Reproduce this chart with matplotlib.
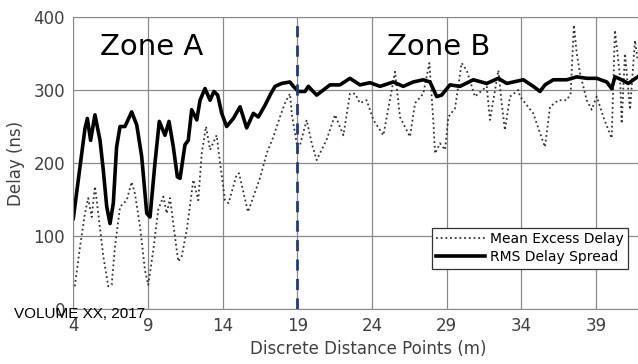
import matplotlib
matplotlib.use("Agg")
import matplotlib.pyplot as plt

# RMS Delay Spread (solid)
rms_x = [4.0, 4.45, 4.78, 4.94, 5.16, 5.45, 5.79, 6.01, 6.24, 6.46, 6.68, 6.9, 7.13, 7.46,
         7.91, 8.25, 8.58, 8.92, 9.14, 9.47, 9.76, 10.14, 10.41, 10.7, 10.97, 11.15, 11.48,
         11.7, 11.93, 12.27, 12.49, 12.82, 13.16, 13.42, 13.67, 13.94, 14.27,
         14.72, 15.17, 15.61, 16.06, 16.39, 16.84, 17.18, 17.51, 17.96, 18.51, 18.74,
         19.07, 19.52, 19.74, 20.3, 20.75, 21.19, 21.86, 22.53, 23.2, 23.87, 24.55,
         25.43, 26.1, 26.77, 27.44, 27.89, 28.34, 28.67, 29.23, 29.9, 30.79, 31.69,
         32.47, 33.03, 33.47, 34.14, 34.81, 35.26, 35.59, 36.15, 37.05, 37.72, 38.39,
         39.06, 39.73, 40.06, 40.28, 40.73, 41.17, 41.8]
rms_y = [124, 195, 247, 261, 231, 266, 231, 190, 140, 117, 145, 222, 250, 250,
         270, 252, 209, 131, 126, 200, 257, 238, 257, 222, 181, 179, 225,
         231, 273, 259, 286, 302, 286, 298, 293, 268, 250,
         261, 277, 248, 268, 263, 279, 293, 305, 309, 311, 305,
         298, 298, 305, 293, 300, 307, 307, 316, 307, 310, 305,
         311, 305, 311, 314, 311, 291, 293, 307, 305, 314, 309,
         316, 309, 311, 314, 305, 298, 307, 314, 314, 318, 316,
         316, 311, 302, 318, 314, 309, 318]

# Mean Excess Delay (dotted)
med_x = [4.1, 4.45, 4.78, 5.0, 5.23, 5.45, 5.67, 6.01, 6.34, 6.57, 6.79, 7.13, 7.58, 7.91,
         8.13, 8.47, 8.8, 9.02, 9.36, 9.69, 10.03, 10.26, 10.48, 10.81, 11.03, 11.26, 11.6,
         12.04, 12.37, 12.6, 12.89, 13.16, 13.6, 13.83, 14.16, 14.4, 14.94, 15.1, 15.7,
         16.5, 16.95, 17.4, 17.84, 18.18, 18.51, 18.63, 18.96,
         19.19, 19.63, 19.97, 20.3, 20.97, 21.53, 22.09, 22.53, 22.87, 23.2, 23.65, 24.1,
         24.77, 25.55, 25.88, 26.55, 26.89, 27.44, 27.85, 28.11, 28.23, 28.56, 28.9, 29.12,
         29.57, 30.01, 30.35, 30.9, 31.69, 31.91, 32.47, 32.69, 32.91, 33.25, 33.81, 33.92,
         34.81, 35.26, 35.59, 35.93, 36.49, 37.05, 37.31, 37.53, 37.72, 37.94, 38.39, 38.72,
         39.06, 39.5, 40.06, 40.28, 40.62, 40.73, 40.95, 41.29, 41.62, 41.8]
med_y = [31, 85, 131, 152, 126, 168, 131, 72, 31, 33, 85, 140, 149, 174,
         158, 113, 53, 33, 81, 136, 154, 131, 152, 99, 65, 72, 108,
         177, 149, 213, 250, 218, 238, 200, 149, 145, 184, 186, 133,
         179, 213, 236, 263, 282, 295, 268, 227,
         225, 259, 227, 204, 232, 266, 238, 295, 295, 282, 286, 259,
         238, 325, 263, 236, 282, 295, 337, 259, 213, 227, 218, 263,
         275, 337, 327, 291, 305, 259, 327, 282, 245, 291, 300, 291,
         268, 241, 222, 277, 286, 286, 295, 389, 350, 323, 286, 273,
         291, 263, 234, 382, 318, 254, 350, 273, 368, 341]

xticks = [4, 9, 14, 19, 24, 29, 34, 39]
yticks = [0, 100, 200, 300, 400]

W, H = 638, 364
fig = plt.figure(figsize=(W / 100, H / 100), dpi=100)
px_per_unit = 14.93
left_px, bottom_px, top_px = 73.3, 309, 17
xmax = 43.5
ax = fig.add_axes([left_px / W, (H - bottom_px) / H,
                   (xmax - 4) * px_per_unit / W, (bottom_px - top_px) / H])

ax.plot(med_x, med_y, linestyle=(0, (1, 1.6)), color='#333333', linewidth=1.3,
        label='Mean Excess Delay')
ax.plot(rms_x, rms_y, linestyle='-', color='black', linewidth=2.6, label='RMS Delay Spread')
ax.axvline(19, color='#1c3b8a', linestyle=(0, (4, 3)), linewidth=2.0)

ax.set_xlim(4, xmax)
ax.set_ylim(0, 400)
ax.set_xticks(xticks)
ax.set_yticks(yticks)
ax.grid(True, color='#8a8a8a', linewidth=0.9)
ax.set_axisbelow(True)
ax.tick_params(length=0, labelsize=12, labelcolor='#404040', pad=6)
for s in ['left', 'bottom', 'top']:
    ax.spines[s].set_color('#8a8a8a')
ax.spines['right'].set_visible(False)

ax.set_xlabel('Discrete Distance Points (m)', fontsize=12, color='#404040', labelpad=3)
ax.set_ylabel('Delay (ns)', fontsize=12, color='#404040', labelpad=6)

fig.text(100 / W, (H - 55) / H, 'Zone A', fontsize=21, color='black')
fig.text(387 / W, (H - 55) / H, 'Zone B', fontsize=21, color='black')

leg = ax.legend(loc='upper left', bbox_to_anchor=(432 / W, (H - 228) / H),
                bbox_transform=fig.transFigure, fontsize=10, frameon=True,
                fancybox=False, framealpha=1, edgecolor='#333333',
                handlelength=3.5, borderpad=0.3, labelspacing=0.3,
                handletextpad=0.4, borderaxespad=0)
leg.get_frame().set_linewidth(0.9)

fig.text(14 / W, (H - 318) / H, 'VOLUME XX, 2017', fontsize=11,
         family='Liberation Sans', color='black')

fig.savefig('out.png', dpi=100)
